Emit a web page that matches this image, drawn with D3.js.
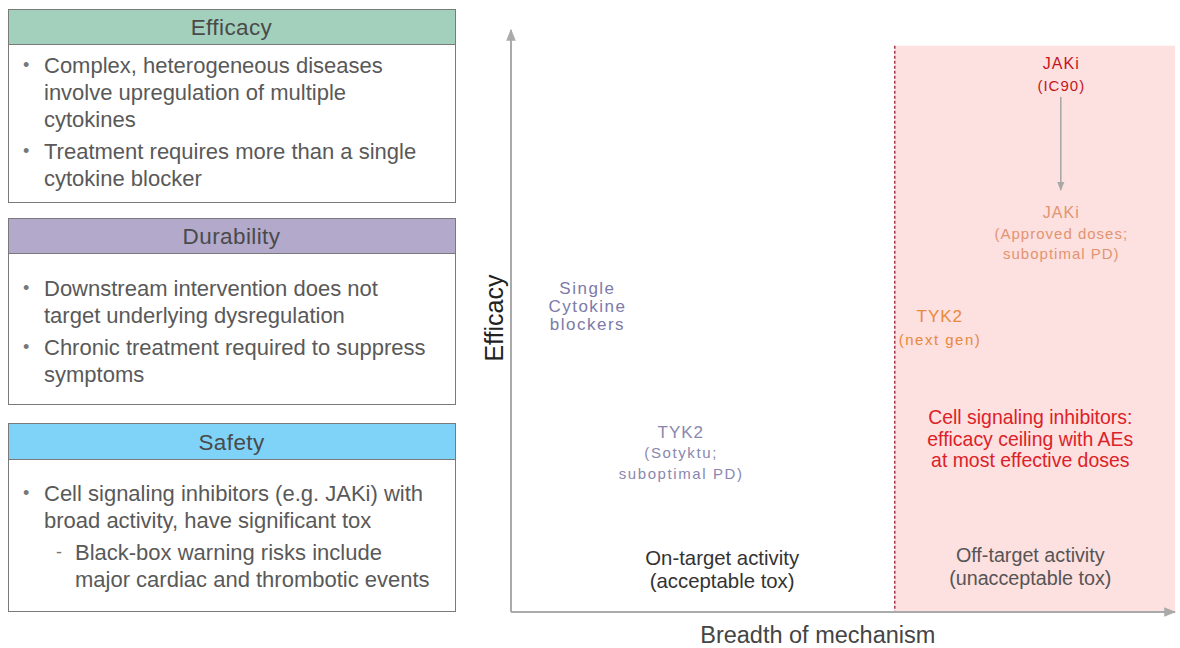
<!DOCTYPE html>
<html>
<head>
<meta charset="utf-8"/>
<title>Efficacy vs breadth of mechanism</title>
<script src="https://d3js.org/d3.v7.min.js"></script>
<style>
  body { margin:0; background:#fff; }
  svg text { font-family: "Liberation Sans", Arial, sans-serif; }
</style>
</head>
<body>
<div id="chart"></div>
<script>
// left panel boxes
var boxTitles = ["Efficacy", "Durability", "Safety"];
var boxColors = ["#a3d0bc", "#b2a9cb", "#80d3f8"];
// [marker, text]; marker "" = wrapped line of the item above
var boxLines = [
  [["•", "Complex, heterogeneous diseases"], ["", "involve upregulation of multiple"], ["", "cytokines"],
   ["•", "Treatment requires more than a single"], ["", "cytokine blocker"]],
  [["•", "Downstream intervention does not"], ["", "target underlying dysregulation"],
   ["•", "Chronic treatment required to suppress"], ["", "symptoms"]],
  [["•", "Cell signaling inhibitors (e.g. JAKi) with"], ["", "broad activity, have significant tox"],
   ["-", "Black-box warning risks include"], ["-+", "major cardiac and thrombotic events"]]
];

// chart labels: conceptual positions on 0-100 axes
var labelX = [11.4, 25.5, 31.8, 78.2, 78.2, 82.8, 82.8, 64.5];
var labelY = [55.5, 30.9, 9.3, 9.8, 33.5, 94.2, 68.6, 50.7];
var labelText = [
  ["Single", "Cytokine", "blockers"],
  ["TYK2", "(Sotyktu;", "suboptimal PD)"],
  ["On-target activity", "(acceptable tox)"],
  ["Off-target activity", "(unacceptable tox)"],
  ["Cell signaling inhibitors:", "efficacy ceiling with AEs", "at most effective doses"],
  ["JAKi", "(IC90)"],
  ["JAKi", "(Approved doses;", "suboptimal PD)"],
  ["TYK2", "(next gen)"]
];
var labelColor = ["#7c7aa8", "#8987b0", "#333333", "#555555", "#dc2228", "#c4161c", "#e29470", "#e8893b"];
var offTargetStart = 57.8;
var regionTop = 97.3;
var arrowFrom = [82.8, 88.5];
var arrowTo = [82.8, 72.5];

var W = 1180, H = 648;
var svg = d3.select("#chart").append("svg").attr("width", W).attr("height", H);

var defs = svg.append("defs");
defs.append("marker").attr("id", "ah").attr("viewBox", "0 0 10 10")
  .attr("refX", 9).attr("refY", 5).attr("markerWidth", 9).attr("markerHeight", 9)
  .attr("markerUnits", "userSpaceOnUse").attr("orient", "auto")
  .append("path").attr("d", "M0,1L10,5L0,9Z").attr("fill", "#a8a8a8");
defs.append("marker").attr("id", "ah2").attr("viewBox", "0 0 10 10")
  .attr("refX", 9).attr("refY", 5).attr("markerWidth", 12).attr("markerHeight", 12)
  .attr("markerUnits", "userSpaceOnUse").attr("orient", "auto")
  .append("path").attr("d", "M0,1L10,5L0,9Z").attr("fill", "#aaa");

// ---- left boxes
var boxTop = [9, 218, 423];
var boxBottom = [202, 404, 611];
var headH = [35, 35, 36];
var lineStart = [65, 288, 493];
var bx0 = 8, bx1 = 455;
boxTitles.forEach(function(t, i) {
  var g = svg.append("g");
  g.append("rect").attr("x", bx0 + 0.5).attr("y", boxTop[i] + 0.5)
    .attr("width", bx1 - bx0).attr("height", boxBottom[i] - boxTop[i])
    .attr("fill", "#fff").attr("stroke", "#7a7a7a");
  g.append("rect").attr("x", bx0 + 0.5).attr("y", boxTop[i] + 0.5)
    .attr("width", bx1 - bx0).attr("height", headH[i])
    .attr("fill", boxColors[i]).attr("stroke", "#7a7a7a");
  g.append("text").attr("x", (bx0 + bx1) / 2).attr("y", boxTop[i] + headH[i] / 2 + 1)
    .attr("text-anchor", "middle").attr("dominant-baseline", "central")
    .attr("font-size", 22.5).attr("letter-spacing", 0.4).attr("fill", "#4a4a4a").text(t);
  var y = lineStart[i];
  boxLines[i].forEach(function(l, j) {
    var m = l[0];
    if (j > 0) y += (m === "•" || m === "-") ? 32 : 27;
    var indent = (m === "-" || m === "-+") ? 75 : 44;
    if (m === "•" || m === "-") {
      g.append("text").attr("x", m === "-" ? 56 : 23).attr("y", y)
        .attr("dominant-baseline", "central").attr("font-size", 18)
        .attr("fill", "#777").text(m);
    }
    g.append("text").attr("x", indent).attr("y", y)
      .attr("dominant-baseline", "central").attr("font-size", 22)
      .attr("fill", "#595959").text(l[1]);
  });
});

// ---- chart
var x = d3.scaleLinear().domain([0, 100]).range([511, 1175]);
var y = d3.scaleLinear().domain([0, 100]).range([612, 30]);

svg.append("rect").attr("x", x(offTargetStart)).attr("y", y(regionTop))
  .attr("width", x(100) - x(offTargetStart)).attr("height", y(0) - y(regionTop))
  .attr("fill", "#fde0e0");

svg.append("line").attr("x1", x(offTargetStart)).attr("x2", x(offTargetStart))
  .attr("y1", y(regionTop)).attr("y2", y(0))
  .attr("stroke", "#9b1b30").attr("stroke-width", 1.3).attr("stroke-dasharray", "3,2");

// axes
svg.append("line").attr("x1", x(0)).attr("y1", y(0)).attr("x2", x(0)).attr("y2", y(100))
  .attr("stroke", "#aaa").attr("stroke-width", 2).attr("marker-end", "url(#ah2)");
svg.append("line").attr("x1", x(0)).attr("y1", y(0)).attr("x2", x(100)).attr("y2", y(0))
  .attr("stroke", "#aaa").attr("stroke-width", 2).attr("marker-end", "url(#ah2)");

svg.append("text").attr("transform", "translate(494," + y(50.5) + ") rotate(-90)")
  .attr("text-anchor", "middle").attr("dominant-baseline", "central")
  .attr("font-size", 25).attr("fill", "#222").text("Efficacy");
svg.append("text").attr("x", x(46.2)).attr("y", 635)
  .attr("text-anchor", "middle").attr("dominant-baseline", "central")
  .attr("font-size", 23.5).attr("fill", "#444").text("Breadth of mechanism");

// JAKi dose arrow
svg.append("line").attr("x1", x(arrowFrom[0])).attr("y1", y(arrowFrom[1]))
  .attr("x2", x(arrowTo[0])).attr("y2", y(arrowTo[1]))
  .attr("stroke", "#a8a8a8").attr("stroke-width", 1.6).attr("marker-end", "url(#ah)");

// label styling
var sizes = [[17, 17, 17], [17, 15, 15], [21, 21], [21, 21], [21, 21, 21], [16, 15], [16, 15, 15], [17, 15]];
var spacing = [[1.5, 1.5, 1.5], [1, 1.6, 1.6], [0, 0], [0, 0], [0, 0, 0], [1, 1], [1, 1, 1], [1, 1.5]];
var squeeze = [1, 1, 0.97, 0.94, 0.926, 1, 1, 1];
var gaps = [[18, 18], [20, 21], [23], [23], [22, 21], [22], [21, 20], [23]];
labelText.forEach(function(lines, i) {
  var ty = y(labelY[i]);
  lines.forEach(function(s, j) {
    if (j > 0) ty += gaps[i][j - 1];
    svg.append("text")
      .attr("transform", "translate(" + (x(labelX[i]) + spacing[i][j] / 2) + "," + ty + ") scale(" + squeeze[i] + ",1)")
      .attr("text-anchor", "middle").attr("dominant-baseline", "central")
      .attr("letter-spacing", spacing[i][j])
      .attr("font-size", sizes[i][j]).attr("fill", labelColor[i]).text(s);
  });
});
</script>
</body>
</html>
